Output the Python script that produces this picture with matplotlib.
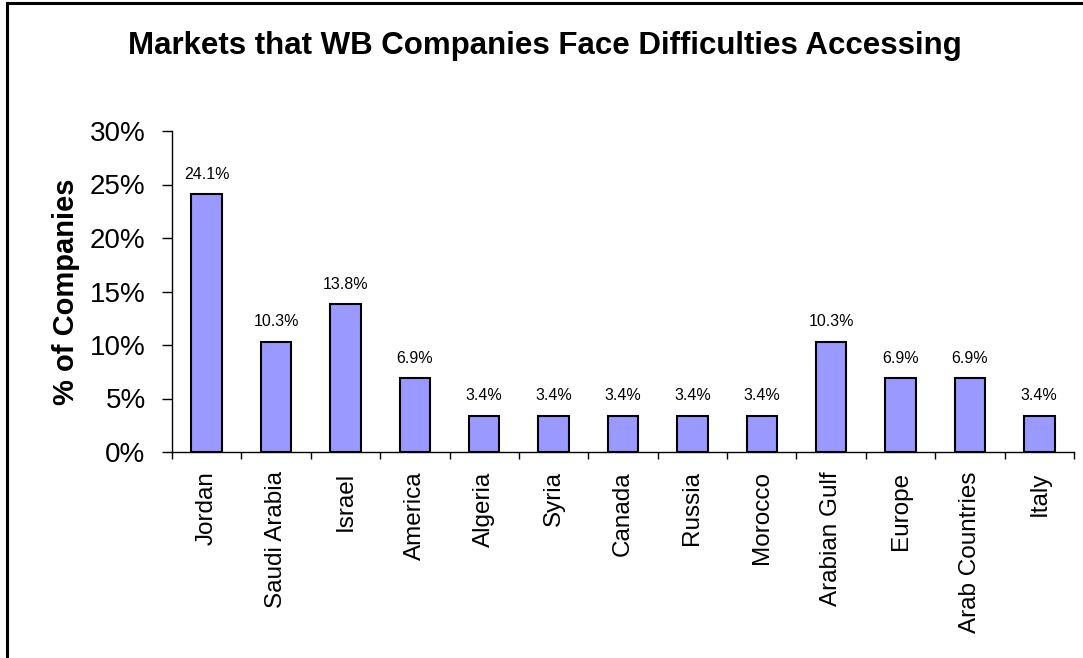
import matplotlib.pyplot as plt
from matplotlib.patches import Rectangle
from matplotlib.ticker import PercentFormatter, FixedLocator, NullFormatter

markets = ["Jordan", "Saudi Arabia", "Israel", "America", "Algeria", "Syria",
           "Canada", "Russia", "Morocco", "Arabian Gulf", "Europe",
           "Arab Countries", "Italy"]
share = [24.1, 10.3, 13.8, 6.9, 3.4, 3.4, 3.4, 3.4, 3.4, 10.3, 6.9, 6.9, 3.4]

plt.rcParams["font.family"] = ["Liberation Sans", "DejaVu Sans"]

W, H = 1083, 658
fig = plt.figure(figsize=(W / 100, H / 100), dpi=100)
ax = fig.add_axes([172 / W, 1 - 452 / H, (1074 - 172) / W, (452 - 131) / H])

x = range(len(markets))
ax.bar(x, share, width=0.44, color="#9999FF", edgecolor="black", linewidth=1.5)

for xi, v in zip(x, share):
    ax.annotate(f"{v:.1f}%", (xi, v), xytext=(0, 9), textcoords="offset points",
                ha="center", va="bottom", fontsize=11.5)

ax.set_xlim(-0.5, len(markets) - 0.5)
ax.set_ylim(0, 30)
ax.set_yticks(range(0, 31, 5))
ax.yaxis.set_major_formatter(PercentFormatter(decimals=0))
ax.tick_params(axis="y", labelsize=20, length=7, width=1, pad=12)

ax.set_xticks(list(x))
ax.set_xticklabels(markets, rotation=90, fontsize=17.5)
ax.tick_params(axis="x", which="major", length=0, pad=14)
ax.xaxis.set_minor_locator(FixedLocator([i - 0.5 for i in range(len(markets) + 1)]))
ax.xaxis.set_minor_formatter(NullFormatter())
ax.tick_params(axis="x", which="minor", length=5, width=1)

for side in ("top", "right"):
    ax.spines[side].set_visible(False)
for side in ("left", "bottom"):
    ax.spines[side].set_linewidth(1)

ax.set_ylabel("% of Companies", fontsize=21, fontweight="bold", labelpad=7)
fig.text(0.503, 1 - 46 / H, "Markets that WB Companies Face Difficulties Accessing",
         ha="center", va="center", fontsize=22.5, fontweight="bold")

# chart frame
fig.add_artist(Rectangle((7 / W, -0.1), 1.2, 1.1 - 3 / H, transform=fig.transFigure,
                         fill=False, edgecolor="black", linewidth=2.2))

fig.savefig("out.png", dpi=100, facecolor="white")
